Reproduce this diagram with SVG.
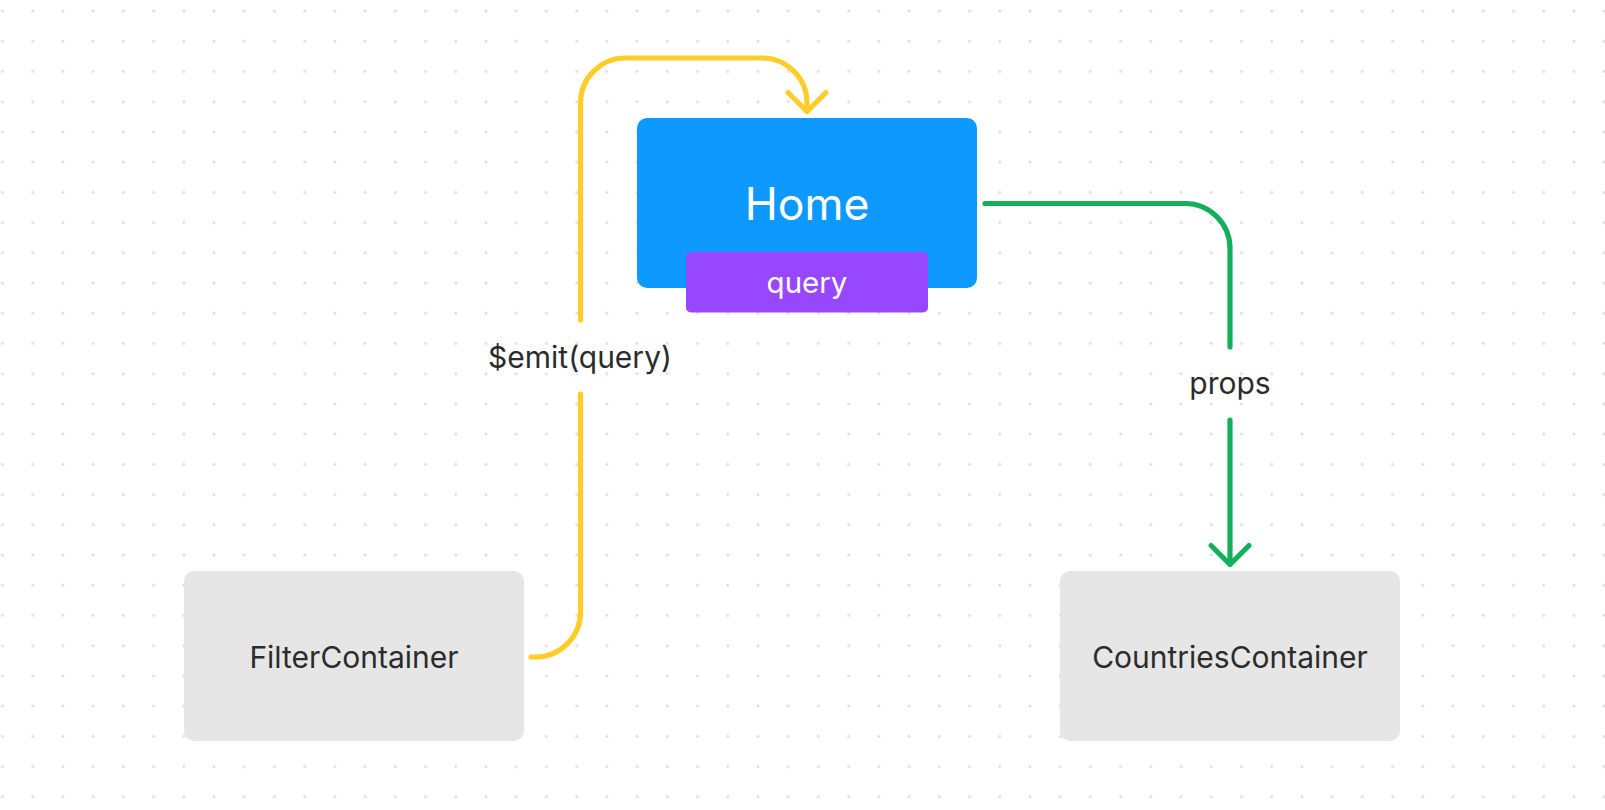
<svg xmlns="http://www.w3.org/2000/svg" width="1605" height="810" viewBox="0 0 1605 810">
  <defs>
    <pattern id="dots" x="2.5" y="11" width="30.22" height="30.22" patternUnits="userSpaceOnUse">
      <circle cx="0" cy="0" r="1.5" fill="#dcdcdc"/>
      <circle cx="30.22" cy="0" r="1.5" fill="#dcdcdc"/>
      <circle cx="0" cy="30.22" r="1.5" fill="#dcdcdc"/>
      <circle cx="30.22" cy="30.22" r="1.5" fill="#dcdcdc"/>
    </pattern>
    <style>
      .lbl { font-family: Inter, "Liberation Sans", sans-serif; text-anchor: middle; fill: #2c2c2c; }
      .wht { font-family: Inter, "Liberation Sans", sans-serif; text-anchor: middle; fill: #ffffff; }
      .grey { fill: #e6e6e6; }
      .conn { fill: none; stroke-width: 5.2; stroke-linecap: round; stroke-linejoin: round; }
      .yel { stroke: #ffcd29; }
      .grn { stroke: #14ae5c; }
    </style>
  </defs>
  <rect width="1605" height="810" fill="#ffffff"/>
  <rect width="1605" height="810" fill="url(#dots)"/>

  <g id="connectors">
    <g id="emit">
      <path class="conn yel" d="M580.5,320 V103 A45,45 0 0 1 625.5,58 H762 A45,45 0 0 1 807,103 V111"/>
      <path class="conn yel" d="M788,92.5 L807,111.5 L826,92.5"/>
      <path class="conn yel" d="M580.5,394 V612 A45,45 0 0 1 535.5,657 H531"/>
      <text class="lbl" x="580" y="368" font-size="30">$emit(query)</text>
    </g>
    <g id="props">
      <path class="conn grn" d="M985,203.5 H1185 A45,45 0 0 1 1230,248.5 V347"/>
      <path class="conn grn" d="M1230,420 V564"/>
      <path class="conn grn" d="M1211,545.5 L1230,564.5 L1249,545.5"/>
      <text class="lbl" x="1230" y="393.5" font-size="30">props</text>
    </g>
  </g>

  <g id="home">
    <rect x="637" y="118" width="340" height="170" rx="10" fill="#0d99ff"/>
    <text class="wht" x="807" y="220" font-size="44.5">Home</text>
  </g>

  <g id="query">
    <rect x="686" y="252" width="242" height="60.5" rx="5" fill="#9747ff"/>
    <text class="wht" x="807" y="292.5" font-size="29.5">query</text>
  </g>

  <g id="filter-container">
    <rect class="grey" x="184" y="571" width="340" height="170" rx="10"/>
    <text class="lbl" x="354" y="667.5" font-size="30">FilterContainer</text>
  </g>

  <g id="countries-container">
    <rect class="grey" x="1060" y="571" width="340" height="170" rx="10"/>
    <text class="lbl" x="1230" y="667.5" font-size="30">CountriesContainer</text>
  </g>
</svg>
